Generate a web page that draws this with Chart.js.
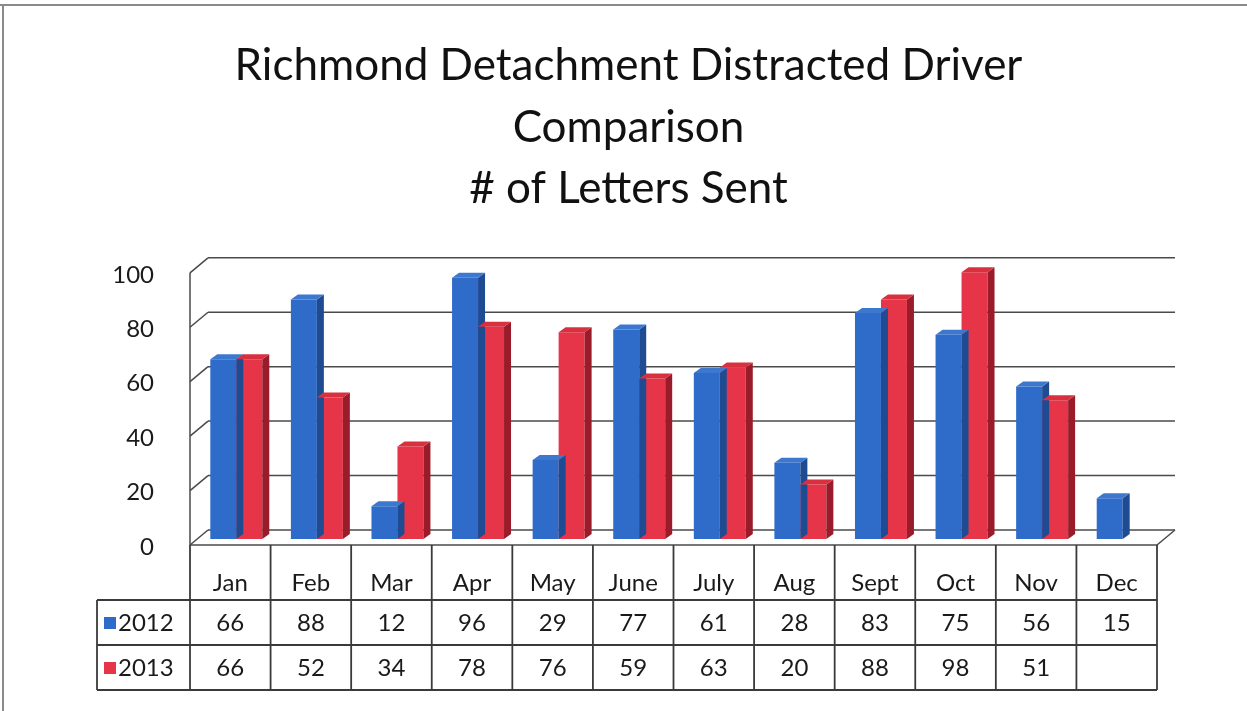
<!DOCTYPE html>
<html>
<head>
<meta charset="utf-8">
<script src="https://cdn.jsdelivr.net/npm/chart.js@4"></script>
<style>
  html, body { margin: 0; padding: 0; background: #fff; }
  #wrap { width: 1247px; height: 711px; }
</style>
</head>
<body>
<div id="wrap"><canvas id="chart" width="1247" height="711"></canvas></div>
<script>
const months = ['Jan', 'Feb', 'Mar', 'Apr', 'May', 'June', 'July', 'Aug', 'Sept', 'Oct', 'Nov', 'Dec'];
const seriesNames = ['2012', '2013'];
const values2012 = [66, 88, 12, 96, 29, 77, 61, 28, 83, 75, 56, 15];
const values2013 = [66, 52, 34, 78, 76, 59, 63, 20, 88, 98, 51, null];
const yTicks = [0, 20, 40, 60, 80, 100];
const titleLines = ['Richmond Detachment Distracted Driver', 'Comparison', '# of Letters Sent'];

const FONT = 'Lato, "Open Sans", sans-serif';
const front = { dx: -6, dy: 6 };   // front plane of the 3d box
const back = { dx: 12, dy: -9 };   // back wall
const depth = { dx: 7, dy: -5 };   // bar depth

const colors = {
    '2012': { face: '#2f6cc9', side: '#1f4b93', top: '#3d78cf' },
    '2013': { face: '#e63448', side: '#9a1c2a', top: '#d9303f' }
};

const shade = (ctx, pts, fill) => {
    ctx.beginPath();
    ctx.moveTo(pts[0][0], pts[0][1]);
    pts.slice(1).forEach(p => ctx.lineTo(p[0], p[1]));
    ctx.closePath();
    ctx.fillStyle = fill;
    ctx.fill();
};

const line = (ctx, x1, y1, x2, y2) => {
    ctx.beginPath();
    ctx.moveTo(x1, y1);
    ctx.lineTo(x2, y2);
    ctx.stroke();
};

// back wall, floor and gridlines
const wallPlugin = {
    id: 'walls',
    beforeDatasetsDraw(chart) {
        const { ctx, chartArea: a, scales: { y } } = chart;
        ctx.save();
        ctx.strokeStyle = '#4a4a4a';
        ctx.lineWidth = 1.5;
        yTicks.forEach(v => {
            const py = y.getPixelForValue(v);
            line(ctx, a.left + back.dx, py + back.dy, a.right + back.dx, py + back.dy);
            line(ctx, a.left + front.dx, py + front.dy, a.left + back.dx, py + back.dy);
        });
        line(ctx, a.left + front.dx, y.getPixelForValue(100) + front.dy, a.left + front.dx, a.bottom + front.dy);
        line(ctx, a.left + front.dx, a.bottom + front.dy, a.right + front.dx, a.bottom + front.dy);
        line(ctx, a.right + front.dx, a.bottom + front.dy, a.right + back.dx, a.bottom + back.dy);
        ctx.restore();
    }
};

// side and top faces of the bars
const depthPlugin = {
    id: 'depth3d',
    afterDatasetsDraw(chart) {
        const { ctx } = chart;
        ctx.save();
        chart.data.datasets.forEach((ds, di) => {
            const c = colors[ds.label];
            chart.getDatasetMeta(di).data.forEach((bar, i) => {
                if (ds.data[i] == null) return;
                const { x, y, base, width } = bar.getProps(['x', 'y', 'base', 'width'], true);
                const l = x - width / 2, r = x + width / 2;
                shade(ctx, [[r, y], [r + depth.dx, y + depth.dy], [r + depth.dx, base + depth.dy], [r, base]], c.side);
                shade(ctx, [[l, y], [l + depth.dx, y + depth.dy], [r + depth.dx, y + depth.dy], [r, y]], c.top);
            });
        });
        ctx.restore();
    }
};

// data table under the plot
const tablePlugin = {
    id: 'dataTable',
    afterDraw(chart) {
        const { ctx, chartArea: a, scales: { x } } = chart;
        const catW = (a.right - a.left) / months.length;
        const left = a.left + front.dx;
        const right = a.right + front.dx;
        const top = a.bottom + front.dy;
        const rows = [600, 645, 690];
        const legendLeft = 97;
        ctx.save();
        ctx.strokeStyle = '#3a3a3a';
        ctx.lineWidth = 1.8;
        for (let i = 0; i <= months.length; i++) {
            const px = left + i * catW;
            line(ctx, px, top, px, rows[2]);
        }
        rows.forEach(ry => line(ctx, legendLeft, ry, right, ry));
        line(ctx, legendLeft, rows[0], legendLeft, rows[2]);

        ctx.fillStyle = '#1a1a1a';
        ctx.font = `24px ${FONT}`;
        ctx.textAlign = 'center';
        ctx.textBaseline = 'middle';
        months.forEach((m, i) => {
            const cx = x.getPixelForValue(i) + front.dx;
            ctx.fillText(m, cx, 583);
            const v1 = values2012[i], v2 = values2013[i];
            if (v1 != null) ctx.fillText(String(v1), cx, 623);
            if (v2 != null) ctx.fillText(String(v2), cx, 668);
        });

        ctx.textAlign = 'left';
        seriesNames.forEach((name, k) => {
            const cy = k === 0 ? 623 : 668;
            ctx.fillStyle = colors[name].face;
            ctx.fillRect(104, cy - 6, 12, 12);
            ctx.fillStyle = '#1a1a1a';
            ctx.fillText(name, 118, cy);
        });

        // scanned page frame
        ctx.strokeStyle = '#8a8a8a';
        ctx.lineWidth = 2;
        line(ctx, 0, 5, 1247, 5);
        line(ctx, 3, 5, 3, 711);
        ctx.restore();
    }
};

new Chart(document.getElementById('chart'), {
    type: 'bar',
    data: {
        labels: months,
        datasets: [
            { label: seriesNames[0], data: values2012, backgroundColor: colors['2012'].face },
            { label: seriesNames[1], data: values2013, backgroundColor: colors['2013'].face }
        ]
    },
    options: {
        responsive: false,
        devicePixelRatio: 1,
        animation: false,
        layout: { padding: { left: 10, right: 0, bottom: 172, top: 0 } },
        datasets: { bar: { categoryPercentage: 0.645, barPercentage: 1 } },
        plugins: {
            legend: { display: false },
            tooltip: { enabled: false },
            title: {
                display: true,
                text: titleLines,
                color: '#111',
                font: { family: FONT, size: 44, weight: 'normal', lineHeight: 1.4 },
                padding: { top: 35, bottom: 47 }
            }
        },
        scales: {
            x: { display: false },
            y: {
                min: 0,
                max: 100,
                afterFit: scale => { scale.width = 186; },
                grid: { display: false },
                border: { display: false },
                ticks: {
                    stepSize: 20,
                    padding: 34,
                    labelOffset: 8,
                    color: '#1a1a1a',
                    font: { family: FONT, size: 24 }
                }
            },
            yr: {
                position: 'right',
                afterFit: scale => { scale.width = 84; },
                grid: { display: false },
                border: { display: false },
                ticks: { display: false }
            }
        }
    },
    plugins: [wallPlugin, depthPlugin, tablePlugin]
});
</script>
</body>
</html>
